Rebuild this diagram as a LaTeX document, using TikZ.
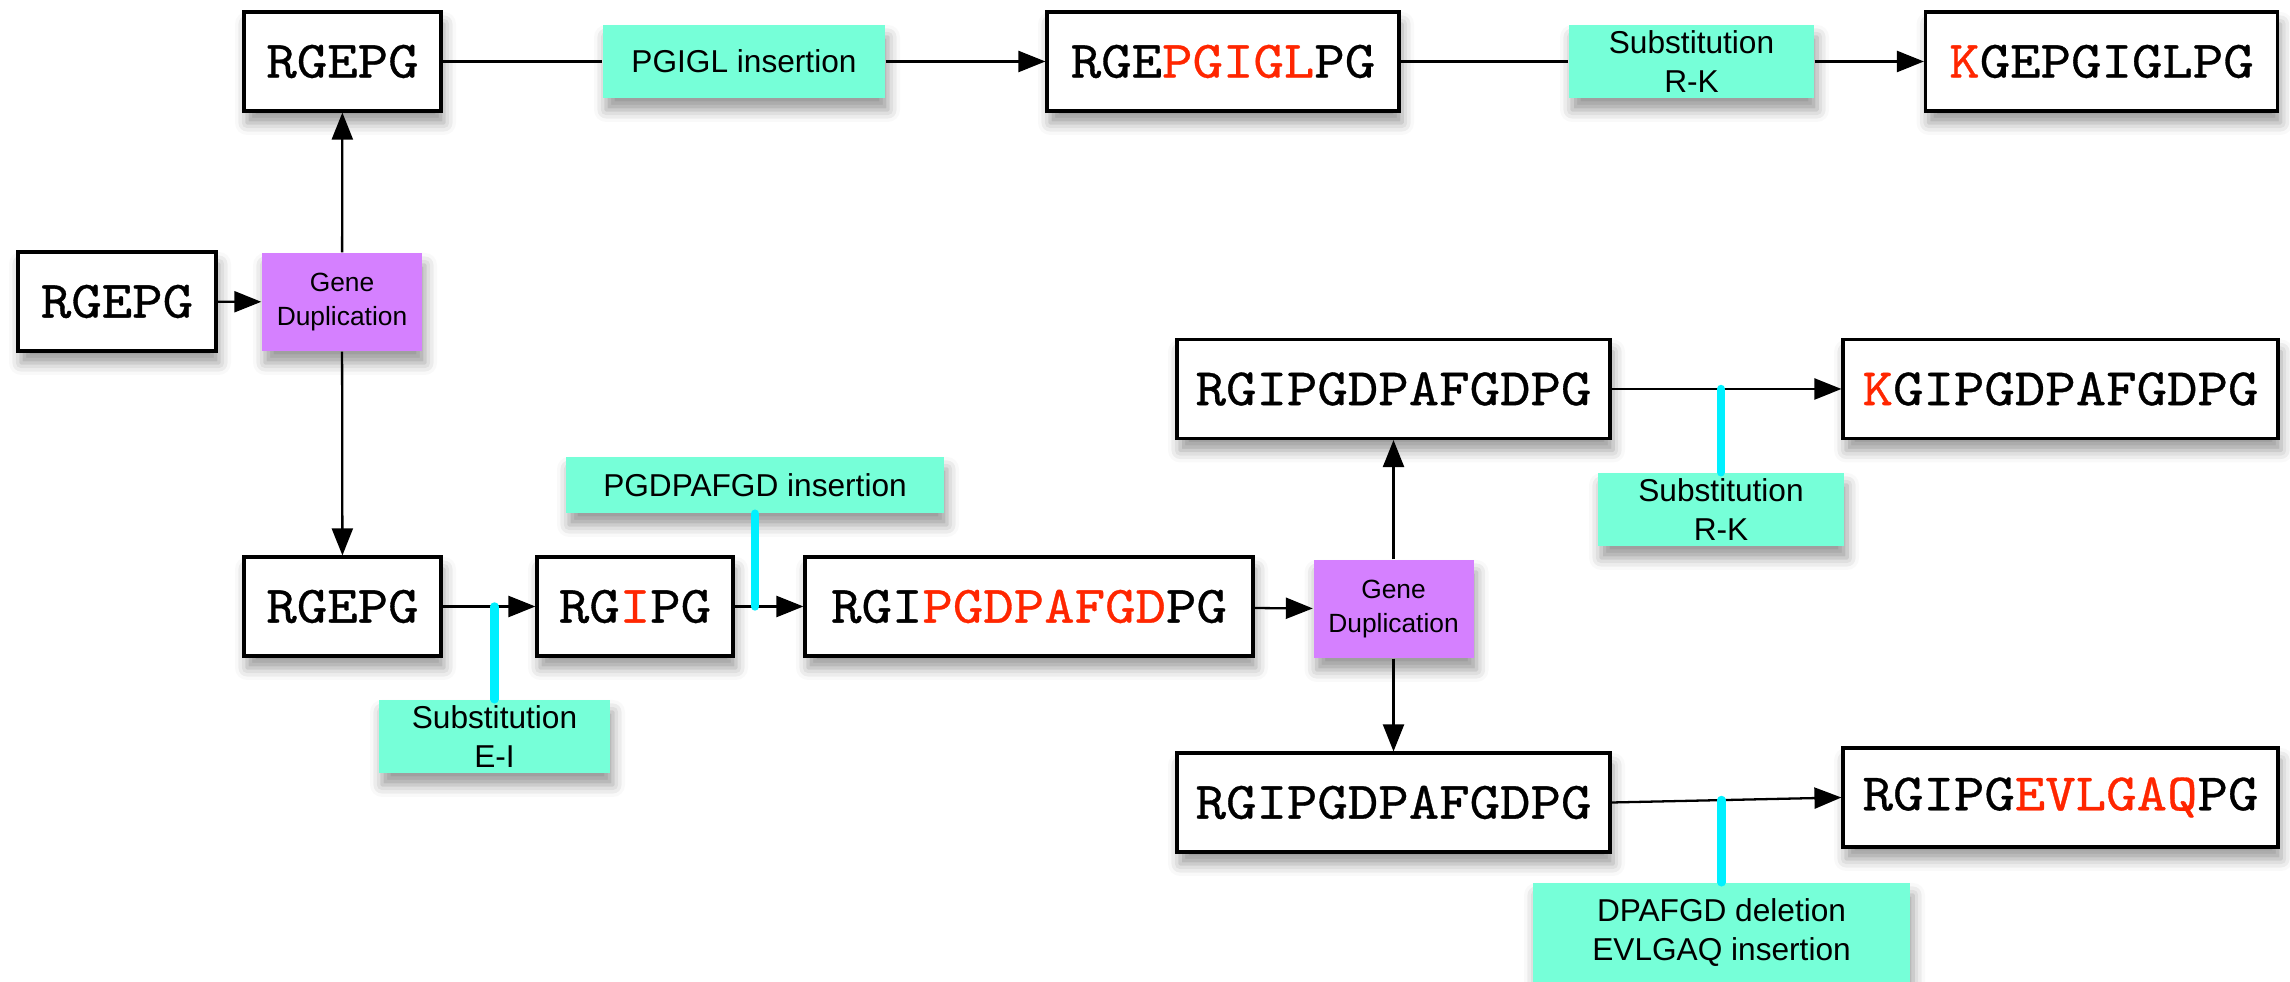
\documentclass[tikz,border=0pt]{standalone}
\usepackage{fontspec}
\setmainfont{Liberation Sans}
\newfontfamily\seqfont{lmmono10-regular.otf}[FakeStretch=1.1,FakeBold=0.6]
\usetikzlibrary{positioning,arrows.meta,shadows.blur}
\definecolor{MutGreen}{HTML}{76FFD8}
\definecolor{DupPurple}{HTML}{D580FF}
\definecolor{SeqRed}{HTML}{FF2600}
\definecolor{TieCyan}{HTML}{00F0FF}
\newcommand{\chg}[1]{\textcolor{SeqRed}{#1}}

\begin{document}
\begin{tikzpicture}[
          seq/.style={draw,line width=0.9pt,fill=white,inner sep=0pt,
                      minimum height=0.99cm,
                      font=\seqfont\fontsize{15}{17}\selectfont,
                      blur shadow={shadow xshift=0.3mm,shadow yshift=-1.2mm,
                                   shadow blur radius=1.2mm}},
          mut/.style={fill=MutGreen,inner sep=0pt,align=center,
                      minimum height=0.73cm,
                      font=\fontsize{9}{11}\selectfont,
                      blur shadow={shadow xshift=0.3mm,shadow yshift=-1.2mm,
                                   shadow blur radius=1.2mm}},
          dup/.style={fill=DupPurple,inner sep=0pt,align=center,
                      minimum width=1.6cm,minimum height=0.98cm,
                      font=\fontsize{7.5}{9.5}\selectfont,
                      blur shadow={shadow xshift=0.3mm,shadow yshift=-1.2mm,
                                   shadow blur radius=1.2mm}},
          ar/.style={-{Triangle[length=2.7mm,width=2.1mm]},line width=0.65pt},
          ln/.style={line width=0.65pt},
          tie/.style={line width=2.4pt,TieCyan,line cap=round}]
        \useasboundingbox (0,0) rectangle (22.9,9.82);
        % first duplication
        \node[seq,minimum width=1.98cm] (start) at (1.17,6.805) {RGEPG};
        \node[dup] (dupA) at (3.42,6.80) {Gene\\Duplication};
        \node[seq,minimum width=1.97cm] (topA) at (3.425,9.205) {RGEPG};
        \node[seq,minimum width=1.97cm] (lowA) at (3.425,3.755) {RGEPG};
        % upper branch
        \node[mut,minimum width=2.82cm] (insA) at (7.44,9.205) {PGIGL insertion};
        \node[seq,minimum width=3.52cm] (topB) at (12.23,9.205) {RGE\chg{PGIGL}PG};
        \node[mut,minimum width=2.45cm] (subA) at (16.915,9.205) {Substitution\\R-K};
        \node[seq,minimum width=3.52cm] (topC) at (21.015,9.205) {\chg{K}GEPGIGLPG};
        % lower branch
        \node[seq,minimum width=1.96cm] (lowB) at (6.35,3.755) {RG\chg{I}PG};
        \node[seq,minimum width=4.48cm] (lowC) at (10.29,3.755) {RGI\chg{PGDPAFGD}PG};
        \node[mut,minimum width=2.31cm] (subB) at (4.945,2.455) {Substitution\\E-I};
        \node[mut,minimum width=3.78cm,minimum height=0.56cm] (insB) at (7.55,4.97) {PGDPAFGD insertion};
        % second duplication
        \node[dup] (dupB) at (13.935,3.73) {Gene\\Duplication};
        \node[seq,minimum width=4.33cm] (midA) at (13.935,5.93) {RGIPGDPAFGDPG};
        \node[seq,minimum width=4.35cm] (midB) at (20.605,5.93) {\chg{K}GIPGDPAFGDPG};
        \node[mut,minimum width=2.46cm] (subC) at (17.21,4.725) {Substitution\\R-K};
        \node[seq,minimum width=4.33cm] (botA) at (13.935,1.795) {RGIPGDPAFGDPG};
        \node[seq,minimum width=4.35cm] (botB) at (20.605,1.845) {RGIPG\chg{EVLGAQ}PG};
        \node[mut,minimum width=3.77cm,minimum height=0.99cm] (delA) at (17.215,0.495) {DPAFGD deletion\\EVLGAQ insertion};

        \draw[ar] (start) -- (dupA);
        \draw[ar] (dupA) -- (topA);
        \draw[ar] (dupA) -- (lowA);
        \draw[ln] (topA) -- (insA);
        \draw[ar] (insA) -- (topB);
        \draw[ln] (topB) -- (subA);
        \draw[ar] (subA) -- (topC);
        \draw[ar] (lowA) -- (lowB);
        \draw[ar] (lowB) -- (lowC);
        \draw[ar] (lowC) -- (dupB);
        \draw[ar] (dupB) -- (midA);
        \draw[ar] (dupB) -- (botA);
        \draw[ar] (midA) -- (midB);
        \draw[ar] (botA.east) -- coordinate (cut) (botB.west);
        \draw[tie] (subB.north) -- (subB.north |- lowA);
        \draw[tie] (insB.south) -- (insB.south |- lowB);
        \draw[tie] (subC.north) -- (subC.north |- midA);
        \draw[tie] (delA.north) -- (delA.north |- cut);
      \end{tikzpicture}
\end{document}
